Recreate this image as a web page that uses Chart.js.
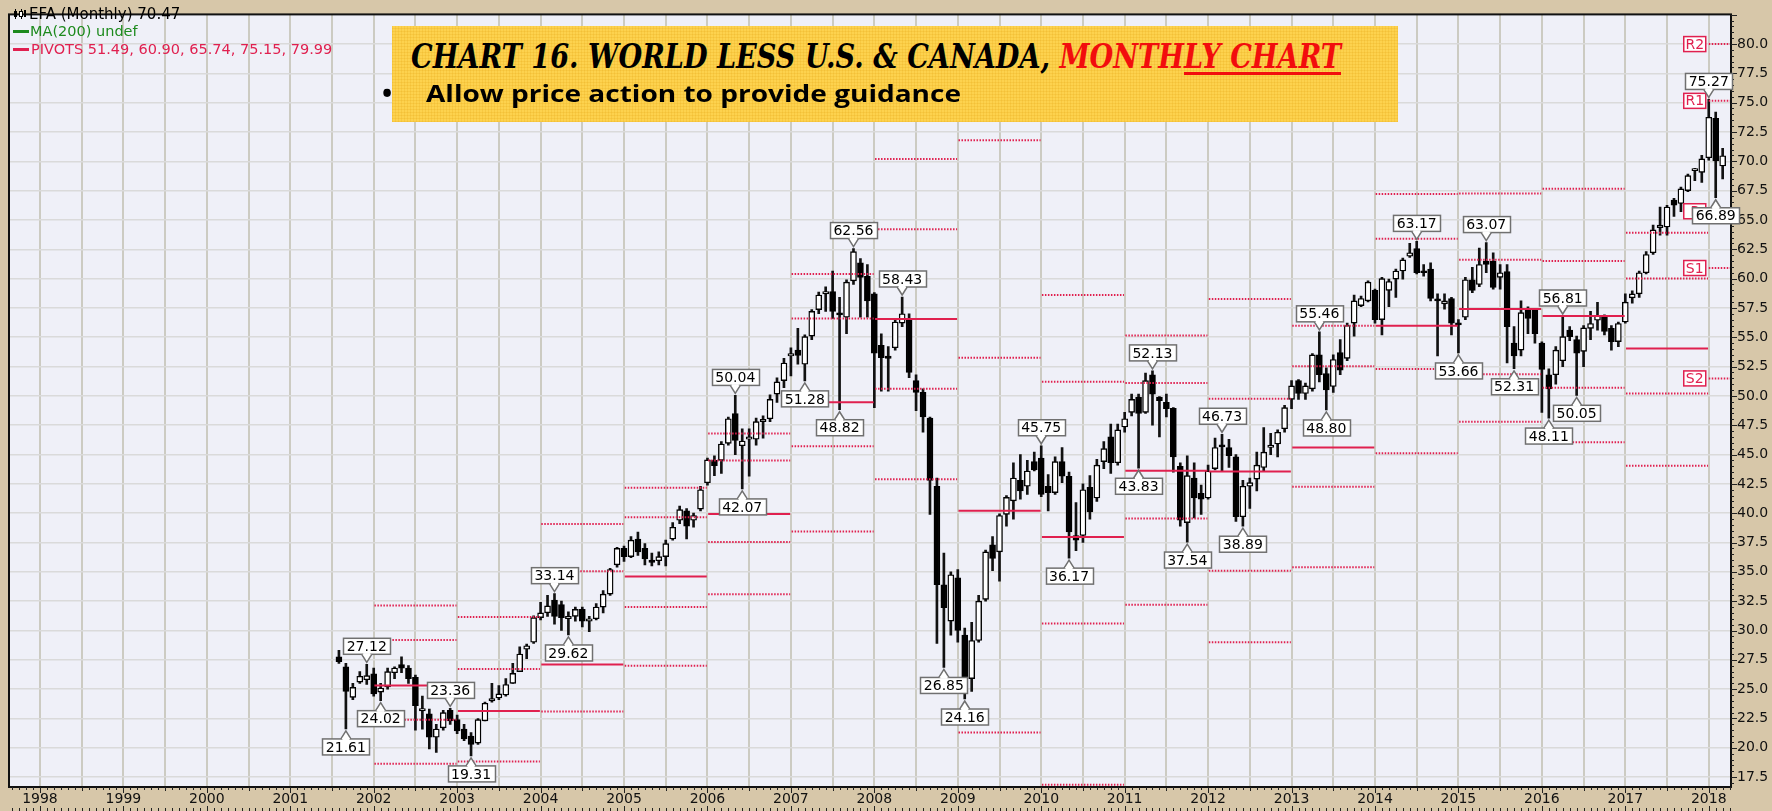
<!DOCTYPE html>
<html>
<head>
<meta charset="utf-8">
<title>EFA monthly</title>
<script src="https://cdn.jsdelivr.net/npm/chart.js@4.4.1/dist/chart.umd.min.js"></script>
<style>
  html, body { margin: 0; padding: 0; background: #d7c7a9; }
  #wrap { position: relative; width: 1772px; height: 811px; overflow: hidden; }
  #efa { position: absolute; left: 0; top: 0; }
  #note {
    position: absolute; left: 392px; top: 26px; width: 1006px; height: 96px;
    background-color: #fdd24e;
    background-image:
      repeating-linear-gradient(0deg, rgba(220, 150, 0, .16) 0 1px, transparent 1px 3px),
      repeating-linear-gradient(90deg, rgba(220, 150, 0, .16) 0 1px, transparent 1px 3px);
  }
  #noteTitle { position: absolute; left: 19px; top: 13px; }
  #tt {
    display: inline-block; white-space: nowrap; transform-origin: 0 0;
    font-family: "DejaVu Serif", serif; font-weight: bold; font-style: italic;
    font-size: 34px; line-height: 34px; color: #000;
  }
  #tt .red { color: #f20d0d; }
  #tt .ul { text-decoration: underline; text-decoration-thickness: 3px; text-underline-offset: 4px; }
  #noteBullet { position: absolute; left: -10px; top: 53px; font: bold 27px/27px "Open Sans", sans-serif; }
  #noteText { position: absolute; left: 34px; top: 55px; }
  #bt {
    display: inline-block; white-space: nowrap; transform-origin: 0 0;
    font-family: "Open Sans", sans-serif; font-weight: 700; font-size: 24px; line-height: 24px; color: #000;
  }
</style>
</head>
<body>
<div id="wrap">
  <canvas id="efa" width="1772" height="811"></canvas>
  <div id="note">
    <div id="noteTitle"><span id="tt">CHART 16. WORLD LESS U.S. &amp; CANADA, <span class="red">MONTH<span class="ul">LY CHART</span></span></span></div>
    <div id="noteBullet">•</div>
    <div id="noteText"><span id="bt">Allow price action to provide guidance</span></div>
  </div>
</div>
<script>
// monthly candles, Aug 2001 .. Mar 2018
const firstYear = 2001, firstMonth = 8;

const opens = [
  27.75, 26.90, 24.30, 25.60, 25.80,
  26.30, 24.75, 25.20, 26.40, 27.10, 26.80, 26.00, 23.15, 22.90, 20.90, 21.70, 23.20,
  22.40, 21.60, 21.00, 20.40, 22.30, 24.00, 24.25, 24.50, 25.50, 26.50, 28.40, 29.00,
  31.10, 31.50, 32.60, 32.20, 31.00, 31.20, 31.80, 30.80, 31.00, 32.00, 33.10, 35.60,
  37.00, 36.30, 37.80, 37.00, 36.00, 35.95, 36.30, 37.80, 39.40, 40.20, 39.40, 40.35,
  42.60, 44.50, 44.50, 45.95, 48.50, 45.75, 46.30, 46.30, 47.80, 48.05, 50.15, 51.30,
  53.40, 53.90, 52.70, 55.10, 57.35, 58.70, 58.90, 57.00, 56.70, 59.80, 61.35, 60.20,
  58.70, 54.30, 53.40, 54.10, 56.20, 56.60, 51.30, 50.30, 48.10, 42.30, 33.90, 30.80,
  34.50, 29.60, 25.90, 29.15, 32.65, 37.30, 36.70, 39.90, 41.05, 42.80, 42.30, 44.40,
  44.70, 42.30, 41.75, 44.40, 43.15, 38.10, 38.10, 42.20, 41.30, 44.40, 46.50, 44.30,
  47.35, 48.60, 49.90, 48.60, 51.80, 49.90, 49.45, 48.95, 44.00, 39.20, 43.00, 41.70,
  41.30, 43.80, 45.80, 45.60, 44.80, 39.70, 42.30, 42.90, 43.90, 45.60, 45.90, 47.20,
  49.70, 51.30, 50.20, 50.60, 53.50, 51.90, 50.80, 53.70, 53.20, 56.20, 57.70, 58.10,
  59.00, 56.50, 59.00, 59.95, 60.65, 61.90, 62.55, 60.65, 60.80, 58.20, 57.85, 58.30,
  56.20, 56.70, 59.90, 59.50, 61.50, 61.50, 60.10, 60.60, 54.50, 53.90, 57.30, 57.30,
  54.50, 51.80, 51.80, 53.00, 55.60, 54.80, 53.80, 55.75, 56.45, 56.73, 55.75, 54.63,
  56.30, 58.35, 58.70, 60.50, 62.20, 64.35, 64.40, 66.70, 66.40, 67.50, 69.20, 69.05,
  70.30, 73.67, 69.60
];
const highs = [
  28.30, 27.20, 25.50, 26.50, 27.12,
  26.80, 25.50, 26.80, 26.90, 27.75, 27.00, 26.20, 24.40, 23.30, 22.00, 23.20, 23.36,
  22.80, 22.00, 21.30, 22.50, 23.90, 25.50, 25.30, 25.90, 27.20, 28.60, 28.85, 31.25,
  32.40, 33.00, 33.14, 32.50, 31.60, 32.00, 32.00, 31.20, 32.30, 33.40, 35.30, 37.10,
  37.20, 38.00, 38.40, 37.40, 36.60, 36.70, 37.70, 39.20, 40.60, 40.40, 40.00, 42.30,
  44.70, 44.90, 46.10, 48.20, 50.04, 47.20, 47.20, 48.10, 48.30, 50.10, 51.55, 53.20,
  54.10, 55.75, 55.20, 57.35, 58.85, 59.30, 60.65, 58.40, 59.90, 62.56, 61.70, 61.20,
  58.80, 55.30, 54.20, 56.45, 58.43, 57.00, 51.80, 50.60, 48.20, 43.00, 36.60, 35.00,
  35.20, 30.20, 30.70, 33.00, 36.85, 38.00, 39.95, 41.50, 44.30, 45.00, 44.50, 45.20,
  45.75, 43.30, 44.80, 45.60, 43.50, 40.90, 42.50, 43.20, 44.60, 46.10, 47.60, 47.60,
  48.60, 50.15, 50.15, 51.95, 52.13, 49.95, 50.15, 49.00, 44.30, 44.90, 44.30, 42.40,
  44.10, 46.40, 46.73, 46.30, 45.00, 42.80, 43.00, 45.20, 47.30, 46.80, 47.10, 49.20,
  51.30, 51.40, 51.10, 53.60, 55.46, 52.40, 53.50, 54.80, 56.20, 58.60, 58.50, 59.80,
  59.10, 60.10, 59.95, 60.80, 61.75, 63.00, 63.17, 61.20, 61.35, 58.70, 58.70, 58.40,
  56.50, 60.10, 60.95, 62.60, 63.07, 62.20, 61.20, 61.20, 55.90, 58.10, 57.60, 57.40,
  54.60, 52.30, 54.20, 56.81, 55.90, 55.10, 56.00, 57.20, 57.98, 56.90, 56.00, 56.30,
  58.70, 58.96, 60.65, 62.30, 64.57, 66.10, 66.25, 66.85, 67.80, 68.90, 69.40, 70.50,
  75.27, 74.20, 71.10
];
const lows = [
  27.20, 21.61, 24.10, 25.50, 25.40,
  24.40, 24.02, 25.00, 25.90, 26.40, 25.50, 21.50, 21.60, 19.90, 19.60, 21.50, 22.00,
  21.20, 20.60, 19.31, 20.30, 22.30, 23.90, 24.10, 24.40, 25.50, 26.50, 27.60, 28.90,
  30.90, 31.20, 30.55, 30.00, 29.62, 30.80, 30.30, 29.90, 30.90, 31.50, 33.00, 35.40,
  35.90, 36.20, 36.40, 35.60, 35.50, 35.60, 35.50, 37.70, 39.10, 37.80, 38.80, 40.20,
  42.40, 43.20, 43.40, 45.80, 45.00, 42.07, 43.15, 45.80, 46.40, 47.80, 49.45, 50.70,
  51.70, 52.70, 51.28, 54.80, 57.00, 57.20, 56.60, 48.82, 55.30, 59.50, 56.70, 56.70,
  49.00, 50.40, 50.40, 53.90, 55.90, 51.55, 48.75, 46.90, 39.90, 28.90, 26.85, 29.60,
  29.00, 24.16, 24.80, 29.00, 32.50, 35.10, 34.20, 38.90, 39.50, 41.20, 41.60, 43.60,
  41.40, 40.20, 41.60, 42.60, 36.17, 36.80, 37.50, 39.50, 41.00, 43.80, 43.40, 44.10,
  46.90, 48.30, 43.83, 48.50, 47.50, 46.50, 48.20, 43.50, 38.90, 37.54, 39.60, 39.90,
  41.20, 43.70, 43.60, 43.90, 39.30, 38.89, 40.40, 41.90, 43.60, 45.00, 44.80, 46.90,
  48.90, 49.70, 49.70, 50.40, 51.20, 48.80, 50.30, 51.80, 53.00, 55.10, 57.60, 58.00,
  56.20, 55.20, 57.60, 58.40, 59.95, 61.80, 60.40, 60.20, 58.10, 53.40, 57.40, 55.20,
  53.66, 56.50, 58.80, 59.30, 60.50, 59.10, 59.10, 52.80, 52.31, 53.40, 55.30, 54.50,
  48.60, 48.11, 51.00, 52.50, 54.70, 50.05, 52.50, 54.80, 55.60, 55.20, 53.90, 54.20,
  56.20, 57.90, 58.40, 60.40, 62.05, 63.70, 63.70, 65.30, 65.70, 67.40, 68.35, 68.20,
  70.10, 66.89, 68.50
];
const closes = [
  27.35, 24.80, 25.15, 26.10, 26.15,
  24.60, 25.10, 26.50, 26.80, 26.80, 25.90, 23.60, 23.35, 20.90, 21.60, 23.00, 22.30,
  21.45, 20.75, 20.30, 22.40, 23.80, 24.20, 24.60, 25.40, 26.35, 28.00, 28.70, 31.10,
  31.50, 32.10, 31.20, 31.10, 31.20, 31.80, 30.80, 31.00, 32.00, 33.10, 35.20, 37.00,
  36.30, 37.70, 36.70, 36.10, 35.80, 36.30, 37.40, 38.80, 40.30, 38.90, 39.80, 42.00,
  44.55, 44.05, 45.90, 48.05, 46.20, 46.15, 46.50, 47.80, 48.00, 49.70, 51.20, 52.80,
  53.60, 53.45, 55.05, 57.20, 58.60, 58.90, 57.20, 56.90, 59.70, 62.30, 60.10, 58.10,
  53.65, 53.25, 53.20, 56.30, 57.00, 52.00, 50.30, 48.20, 42.80, 33.90, 31.95, 34.75,
  30.00, 25.90, 29.15, 32.50, 36.70, 36.15, 39.80, 41.35, 43.00, 41.90, 43.60, 43.70,
  41.60, 41.75, 44.40, 43.15, 38.40, 37.70, 42.00, 40.10, 44.10, 45.50, 44.30, 47.10,
  48.05, 49.70, 48.50, 51.30, 50.15, 49.60, 48.90, 44.80, 39.40, 43.20, 41.30, 41.20,
  43.60, 45.60, 45.65, 44.90, 39.70, 42.30, 42.60, 44.10, 45.20, 45.80, 46.90, 49.00,
  50.85, 50.20, 50.85, 53.50, 51.80, 50.50, 53.10, 52.20, 56.00, 58.10, 58.30, 59.70,
  56.50, 60.00, 59.75, 60.65, 61.60, 62.20, 60.50, 60.50, 58.30, 58.10, 58.10, 56.20,
  56.05, 59.90, 59.00, 61.20, 61.20, 59.25, 60.50, 55.90, 53.40, 57.10, 56.60, 55.30,
  52.25, 50.60, 53.90, 55.05, 55.05, 53.65, 55.80, 56.17, 56.87, 55.50, 54.63, 56.17,
  57.99, 58.70, 60.50, 62.05, 64.15, 64.57, 66.10, 66.25, 67.65, 68.77, 69.30, 70.20,
  73.75, 70.03, 70.47
];

// yearly pivot levels (null = below the visible range)
const pivotYears = [2002, 2003, 2004, 2005, 2006, 2007, 2008, 2009, 2010, 2011, 2012, 2013, 2014, 2015, 2016, 2017, 2018];
const pivotR2 = [32.14, 31.16, 39.08, 42.17, 46.79, 60.40, 70.20, 71.80, 58.60, 55.15, 58.25, 55.97, 67.20, 67.25, 67.65, 63.90, 79.99];
const pivotR1 = [29.20, 26.71, 35.06, 39.65, 44.50, 56.60, 64.20, 53.25, 51.20, 51.10, 49.75, 52.53, 63.40, 61.60, 61.50, 60.00, 75.15];
const pivotP  = [25.31, 23.13, 27.10, 34.60, 39.93, 49.45, 56.55, 40.20, 37.97, 43.62, 43.55, 45.60, 55.97, 57.40, 56.80, 54.04, 65.74];
const pivotS1 = [22.40, 18.84, 23.10, 32.00, 37.55, 45.70, 50.60, 21.30, 30.60, 39.55, 35.10, 42.25, 52.30, 51.85, 50.70, 50.20, 60.90];
const pivotS2 = [18.65, null, null, 27.00, 33.10, 38.45, 42.90, null, 16.85, 32.20, 29.00, 35.40, 45.10, 47.80, 46.05, 44.05, 51.49];

// swing high / low tags
const tagMonths = ['2001-09', '2001-12', '2002-02', '2002-12', '2003-03', '2004-03', '2004-05', '2006-05', '2006-06',
  '2007-03', '2007-08', '2007-10', '2008-05', '2008-11', '2009-02', '2010-01', '2010-05', '2011-03', '2011-05',
  '2011-10', '2012-03', '2012-06', '2013-05', '2013-06', '2014-07', '2015-01', '2015-05', '2015-09', '2016-02',
  '2016-04', '2016-06', '2018-01', '2018-02'];
const tagValues = [21.61, 27.12, 24.02, 23.36, 19.31, 33.14, 29.62, 50.04, 42.07,
  51.28, 48.82, 62.56, 58.43, 26.85, 24.16, 45.75, 36.17, 43.83, 52.13,
  37.54, 46.73, 38.89, 55.46, 48.80, 63.17, 53.66, 63.07, 52.31, 48.11,
  56.81, 50.05, 75.27, 66.89];
const tagSides = ['low', 'high', 'low', 'high', 'low', 'high', 'low', 'high', 'low',
  'low', 'low', 'high', 'high', 'low', 'low', 'high', 'low', 'low', 'high',
  'low', 'high', 'low', 'high', 'low', 'high', 'low', 'high', 'low', 'low',
  'high', 'low', 'high', 'low'];

const yearLabels = [1998, 1999, 2000, 2001, 2002, 2003, 2004, 2005, 2006, 2007, 2008, 2009,
  2010, 2011, 2012, 2013, 2014, 2015, 2016, 2017, 2018];
const priceTicks = [17.5, 20, 22.5, 25, 27.5, 30, 32.5, 35, 37.5, 40, 42.5, 45, 47.5, 50,
  52.5, 55, 57.5, 60, 62.5, 65, 67.5, 70, 72.5, 75, 77.5, 80];

const lastPrice = 70.47;
const PIVOT_RED = '#e0204f';

// month index: 0 = Jan 1998
const monthIdx = s => (parseInt(s.slice(0, 4)) - 1998) * 12 + parseInt(s.slice(5, 7)) - 1;
const xs = opens.map((_, k) => (firstYear - 1998) * 12 + firstMonth - 1 + k);

function pivotSeries(levels) {
  const pts = [];
  levels.forEach((v, k) => {
    if (v === null) return;
    const start = (pivotYears[k] - 1998) * 12;
    const end = pivotYears[k] === 2018 ? 244 : start + 12;
    pts.push({ x: pivotYears[k] === 2018 ? start : start + 0.1, y: v }, { x: end - 0.1, y: v }, { x: end, y: null });
  });
  return pts;
}

function pivotLine(label, levels, dotted) {
  return {
    type: 'line', label, data: pivotSeries(levels), borderColor: PIVOT_RED,
    borderWidth: 2, borderDash: dotted ? [1.5, 1.5] : [], pointRadius: 0, spanGaps: false, order: 1
  };
}

function drawTag(c, px, py, text, above) {
  c.font = '14px "DejaVu Sans"';
  const w = Math.round(c.measureText(text).width) + 7, h = 16, tri = 8, half = 5;
  const bx = Math.round(px - w / 2) + 0.5;
  const tipY = above ? py - 2 : py + 2;
  const by = above ? tipY - tri - h : tipY + tri;
  c.fillStyle = '#fff';
  c.strokeStyle = '#707070';
  c.lineWidth = 1.5;
  c.fillRect(bx, by, w, h);
  c.strokeRect(bx, by, w, h);
  const baseY = above ? by + h : by;
  c.beginPath();
  c.moveTo(px - half, baseY); c.lineTo(px, tipY); c.lineTo(px + half, baseY);
  c.closePath(); c.fill();
  c.beginPath();
  c.moveTo(px - half, baseY); c.lineTo(px, tipY); c.lineTo(px + half, baseY);
  c.stroke();
  c.fillRect(px - half + 1.5, baseY - 1.2, 2 * half - 3, 2.4);
  c.fillStyle = '#000';
  c.textAlign = 'center';
  c.textBaseline = 'middle';
  c.fillText(text, px, by + h / 2 + 1);
}

const frame = {
  id: 'frame',
  beforeDraw(chart) {
    const { ctx: c, chartArea: a } = chart;
    c.save();
    c.fillStyle = '#eff0f8';
    c.fillRect(a.left, a.top, a.right - a.left, a.bottom - a.top);
    c.restore();
  },
  afterDraw(chart) {
    const { ctx: c, chartArea: a, scales: { x, y } } = chart;
    c.save();
    // plot border
    c.strokeStyle = '#111';
    c.lineWidth = 2;
    c.strokeRect(a.left, a.top, a.right - a.left, a.bottom - a.top);

    // month ticks under the plot and along the bottom edge
    c.lineWidth = 1;
    c.strokeStyle = '#222';
    c.beginPath();
    for (let m = -4; m <= 243; m++) {
      const px = Math.round(x.getPixelForValue(m)) + 0.5;
      const len = m % 12 === 0 ? 6 : (m % 6 === 0 ? 4 : 3);
      c.moveTo(px, a.bottom); c.lineTo(px, a.bottom + len);
      c.moveTo(px, 811); c.lineTo(px, 811 - (m % 12 === 0 ? 5 : 3));
    }
    // price ticks on the right axis
    for (let v = 17; v <= 82.5; v += 0.5) {
      const py = Math.round(y.getPixelForValue(v)) + 0.5;
      const major = Math.abs(v / 2.5 - Math.round(v / 2.5)) < 1e-6;
      c.moveTo(a.right, py); c.lineTo(a.right + (major ? 6 : 3), py);
    }
    c.stroke();

    // current-year pivot tags
    const tagNames = ['R2', 'R1', 'P', 'S1', 'S2'];
    const last = pivotYears.length - 1;
    const levels = [pivotR2[last], pivotR1[last], pivotP[last], pivotS1[last], pivotS2[last]];
    const right = x.getPixelForValue(240) - 3;
    c.font = '14px "DejaVu Sans"';
    c.textAlign = 'center';
    c.textBaseline = 'middle';
    levels.forEach((v, k) => {
      const py = y.getPixelForValue(v);
      c.fillStyle = '#fff';
      c.strokeStyle = PIVOT_RED;
      c.lineWidth = 1.5;
      c.fillRect(right - 22, py - 7.5, 22, 15);
      c.strokeRect(right - 22, py - 7.5, 22, 15);
      c.fillStyle = PIVOT_RED;
      c.fillText(tagNames[k], right - 11, py + 1);
    });

    // swing tags
    tagMonths.forEach((m, k) => {
      drawTag(c, x.getPixelForValue(monthIdx(m)), y.getPixelForValue(tagValues[k]),
        tagValues[k].toFixed(2), tagSides[k] === 'high');
    });

    // legend, top left
    c.textAlign = 'left';
    c.textBaseline = 'alphabetic';
    c.font = '15px "DejaVu Sans"';
    c.fillStyle = '#000';
    c.fillRect(14, 11, 3, 6); c.fillRect(15, 9, 1, 10);
    c.fillRect(21, 9, 1, 10); c.fillStyle = '#fff'; c.fillRect(19.5, 11.5, 3, 5);
    c.strokeStyle = '#000'; c.lineWidth = 1; c.strokeRect(19.5, 11.5, 3, 5);
    c.fillStyle = '#000'; c.fillRect(24, 10, 2, 7);
    c.fillText('EFA (Monthly) ' + lastPrice.toFixed(2), 29, 19);
    c.font = '14.5px "DejaVu Sans"';
    c.fillStyle = '#1d8a1d';
    c.fillRect(13, 30, 16, 3);
    c.fillText('MA(200) undef', 30, 36);
    c.fillStyle = PIVOT_RED;
    c.fillRect(13, 48, 16, 3);
    c.fillText('PIVOTS ' + [pivotS2[last], pivotS1[last], pivotP[last], pivotR1[last], pivotR2[last]]
      .map(v => v.toFixed(2)).join(', '), 31, 54);
    c.restore();
  }
};

new Chart(document.getElementById('efa'), {
  type: 'bar',
  data: {
    datasets: [
      {
        label: 'range', grouped: false, order: 3,
        data: xs.map((x, k) => ({ x, y: [lows[k], highs[k]] })),
        backgroundColor: '#111', barThickness: 2
      },
      {
        label: 'body', grouped: false, order: 2,
        data: xs.map((x, k) => ({ x, y: [Math.min(opens[k], closes[k]), Math.max(opens[k], closes[k])] })),
        backgroundColor: closes.map((c, k) => c >= opens[k] ? '#ffffff' : '#000000'),
        borderColor: '#000', borderWidth: 1.4, borderSkipped: false,
        barThickness: 6, minBarLength: 2
      },
      pivotLine('R2', pivotR2, true),
      pivotLine('R1', pivotR1, true),
      pivotLine('P', pivotP, false),
      pivotLine('S1', pivotS1, true),
      pivotLine('S2', pivotS2, true)
    ]
  },
  options: {
    responsive: false,
    animation: false,
    layout: { padding: { left: 9, top: 3, right: 0, bottom: 0 } },
    plugins: { legend: { display: false }, tooltip: { enabled: false } },
    scales: {
      x: {
        type: 'linear', position: 'bottom', min: -4.45, max: 243.2, offset: false,
        afterBuildTicks: s => { s.ticks = []; for (let m = 0; m <= 240; m += 6) s.ticks.push({ value: m }); },
        afterFit: s => { s.height = 24; },
        grid: { color: '#cccbc2', lineWidth: 2, drawTicks: false, offset: false },
        border: { display: false },
        ticks: {
          autoSkip: false, maxRotation: 0, padding: 4, color: '#111',
          font: { family: 'DejaVu Sans', size: 14 },
          callback: v => v % 12 === 0 ? String(yearLabels[v / 12]) : ''
        }
      },
      y: {
        type: 'linear', position: 'right', min: 16.66, max: 82.52,
        afterBuildTicks: s => { s.ticks = priceTicks.map(v => ({ value: v })); },
        afterFit: s => { s.width = 41; },
        grid: { color: '#dadada', lineWidth: 1.5, drawTicks: false },
        border: { display: false },
        ticks: {
          autoSkip: false, padding: 6, color: '#111',
          font: { family: 'DejaVu Sans', size: 14 },
          callback: v => v.toFixed(1)
        }
      }
    }
  },
  plugins: [frame]
});

// fit the note box lines to their widths
function fitWidth(id, width) {
  const el = document.getElementById(id);
  const w = el.getBoundingClientRect().width;
  el.style.transform = 'scaleX(' + (width / w) + ')';
}
fitWidth('tt', 930);
fitWidth('bt', 535);
</script>
</body>
</html>
